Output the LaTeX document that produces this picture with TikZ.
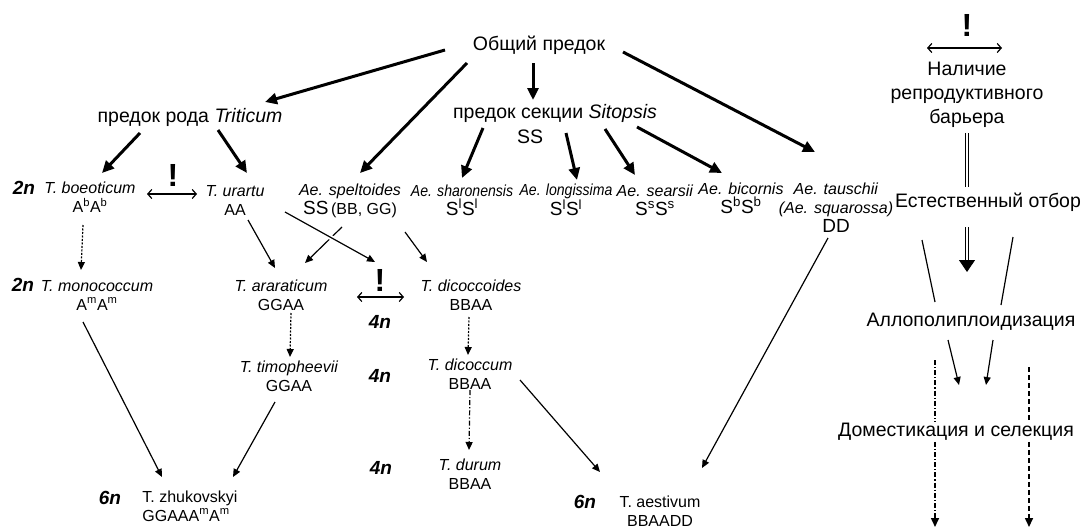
\documentclass[tikz,border=0pt]{standalone}
\usepackage{fontspec}
\setmainfont{Liberation Sans}
\newfontfamily\condsans[FakeStretch=0.88]{Liberation Sans}
\usepackage{tikz}
\usetikzlibrary{arrows.meta,positioning,calc}

\newcommand{\genome}[1]{{\fontsize{19}{21}\selectfont #1}}
\newcommand{\narrow}[1]{{\condsans\itshape #1}}

\begin{document}
\begin{tikzpicture}[
    x=1pt, y=-1pt,
    lbl/.style={font=\fontsize{19.5}{24}\selectfont, align=center, inner sep=1pt},
    taxon/.style={font=\fontsize{16}{19}\selectfont, align=center, inner sep=1pt},
    ploidy/.style={font=\fontsize{19}{22}\selectfont\bfseries\itshape, inner sep=1pt},
    excl/.style={font=\fontsize{32}{34}\selectfont\bfseries, inner sep=0pt},
    thickarr/.style={line width=3pt, -{Triangle[length=12pt,width=11pt]}},
    thinarr/.style={line width=1.2pt, -{Triangle[length=8pt,width=7pt]}},
    dotarr/.style={thinarr, dash pattern=on 2pt off 1.5pt},
    dasharr/.style={thinarr, dash pattern=on 5pt off 2pt on 1.2pt off 2pt},
    biarr/.style={line width=1.2pt, {Straight Barb[length=4pt,width=9pt]}-{Straight Barb[length=4pt,width=9pt]}},
    dblline/.style={double, double distance=2.5pt, line width=1pt}
]
\fill[white] (0,0) rectangle (1084,530);
\useasboundingbox (0,0) rectangle (1084,530);

% Ancestors
\node[lbl] (common) at (539,45) {Общий предок};
\node[lbl] (trit) at (190,117) {предок рода \textit{Triticum}};
\node[lbl] (sitop) at (555,113) {предок секции \textit{Sitopsis}};
\node[lbl] (ss) at (530,137) {SS};

% Diploids
\node[ploidy] (p2a) at (24,188) {2n};
\node[taxon] (boeot) at (90,197) {\textit{T. boeoticum}\\A\textsuperscript{b}A\textsuperscript{b}};
\node[excl] (ex1) at (173,175) {!};
\node[taxon] (urartu) at (235,200) {\textit{T. urartu}\\AA};
\node[taxon] (spelt) at (350,201) {\textit{Ae. speltoides}\\\genome{SS}\,(BB, GG)};
\node[taxon] (sharon) at (462,200) {\narrow{Ae. sharonensis}\\\genome{S\textsuperscript{l}S\textsuperscript{l}}};
\node[taxon] (longi) at (566,200) {\narrow{Ae. longissima}\\\genome{S\textsuperscript{l}S\textsuperscript{l}}};
\node[taxon] (sears) at (655,200) {\textit{Ae. searsii}\\\genome{S\textsuperscript{s}S\textsuperscript{s}}};
\node[taxon] (bicor) at (741,198) {\textit{Ae. bicornis}\\\genome{S\textsuperscript{b}S\textsuperscript{b}}};
\node[taxon] (tausch) at (836,208) {\textit{Ae. tauschii}\\\textit{(Ae. squarossa)}\\\genome{DD}};

% Second row
\node[ploidy] (p2b) at (23,285) {2n};
\node[taxon] (mono) at (97,295) {\textit{T. monococcum}\\A\textsuperscript{m}A\textsuperscript{m}};
\node[taxon] (arar) at (281,295) {\textit{T. araraticum}\\GGAA};
\node[excl] (ex2) at (380,280) {!};
\node[ploidy] (p4a) at (380,322) {4n};
\node[taxon] (dicoides) at (471,295) {\textit{T. dicoccoides}\\BBAA};

% Tetraploids
\node[taxon] (timo) at (289,376) {\textit{T. timopheevii}\\GGAA};
\node[ploidy] (p4b) at (380,376) {4n};
\node[taxon] (dicoccum) at (470,374) {\textit{T. dicoccum}\\BBAA};
\node[ploidy] (p4c) at (381,468) {4n};
\node[taxon] (durum) at (470,474) {\textit{T. durum}\\BBAA};

% Hexaploids
\node[ploidy] (p6a) at (110,498) {6n};
\node[taxon, align=left] (zhuk) at (190,506) {T. zhukovskyi\\GGAAA\textsuperscript{m}A\textsuperscript{m}};
\node[ploidy] (p6b) at (585,502) {6n};
\node[taxon] (aest) at (660,511) {T. aestivum\\BBAADD};

% Right column
\node[excl] (ex3) at (967,25) {!};
\node[lbl] (barrier) at (967,95) {Наличие\\репродуктивного\\барьера};
\node[lbl] (select) at (988,202) {Естественный отбор};
\node[lbl] (allo) at (971,322) {Аллополиплоидизация};
\node[lbl] (domest) at (956,432) {Доместикация и селекция};
\coordinate (ddtop) at (935,360);
\coordinate (ddbot) at (935,527);
\coordinate (dstop) at (1029,367);
\coordinate (dsbot) at (1029,527);

% Thick arrows
\draw[thickarr] ([shift={(-94,5)}]common.center) -- ([shift={(75,-15)}]trit.center);
\draw[thickarr] ([shift={(-72,18)}]common.center) -- ([shift={(10,-28)}]spelt.center);
\draw[thickarr] ([shift={(-6,18)}]common.center) -- ([shift={(-22,-13)}]sitop.center);
\draw[thickarr] ([shift={(84,7)}]common.center) -- ([shift={(-21,-56)}]tausch.center);
\draw[thickarr] ([shift={(-50,16)}]trit.center) -- ([shift={(12,-24)}]boeot.center);
\draw[thickarr] ([shift={(28,13)}]trit.center) -- ([shift={(12,-27)}]urartu.center);
\draw[thickarr] ([shift={(-72,15)}]sitop.center) -- ([shift={(0,-22)}]sharon.center);
\draw[thickarr] ([shift={(11,20)}]sitop.center) -- ([shift={(11,-20)}]longi.center);
\draw[thickarr] ([shift={(50,16)}]sitop.center) -- ([shift={(-20,-25)}]sears.center);
\draw[thickarr] ([shift={(82,14)}]sitop.center) -- ([shift={(-19,-25)}]bicor.center);

% Reproductive barriers
\draw[biarr] ([shift={(57,-3)}]boeot.center) -- ([shift={(-38,-6)}]urartu.center);
\draw[biarr] ([shift={(-23,17)}]ex2.center) -- ([shift={(24,17)}]ex2.center);
\draw[biarr] ([shift={(-40,23)}]ex3.center) -- ([shift={(35,23)}]ex3.center);

% Thin arrows
\draw[dotarr] ([shift={(-7,28)}]boeot.center) -- ([shift={(-16,-25)}]mono.center);
\draw[thinarr] ([shift={(13,20)}]urartu.center) -- ([shift={(-6,-27)}]arar.center);
\draw[thinarr] ([shift={(-8,26)}]spelt.center) -- ([shift={(24,-32)}]arar.center);
\draw[thinarr, preaction={draw=white, line width=5pt, -, shorten <=40pt, shorten >=45pt}] ([shift={(50,12)}]urartu.center) -- ([shift={(-5,-18)}]ex2.center);
\draw[thinarr] ([shift={(55,31)}]spelt.center) -- ([shift={(-44,-33)}]dicoides.center);
\draw[dotarr] ([shift={(10,18)}]arar.center) -- ([shift={(1,-19)}]timo.center);
\draw[dotarr] ([shift={(-2,22)}]dicoides.center) -- ([shift={(-2,-19)}]dicoccum.center);
\draw[dasharr] ([shift={(0,16)}]dicoccum.center) -- ([shift={(-1,-24)}]durum.center);
\draw[thinarr] ([shift={(-14,27)}]mono.center) -- ([shift={(-28,-29)}]zhuk.center);
\draw[thinarr] ([shift={(-14,26)}]timo.center) -- ([shift={(43,-29)}]zhuk.center);
\draw[thinarr] ([shift={(50,6)}]dicoccum.center) -- ([shift={(-60,-39)}]aest.center);
\draw[thinarr] ([shift={(-8,30)}]tausch.center) -- ([shift={(42,-43)}]aest.center);

% Right column connectors
\draw[dblline] ([shift={(0,38)}]barrier.center) -- ([shift={(-21,-15)}]select.center);
\draw[dblline, -{Triangle[length=12pt,width=16pt]}] ([shift={(-21,25)}]select.center) -- ([shift={(-4,-50)}]allo.center);
\draw[line width=1.2pt] ([shift={(-66,38)}]select.center) -- ([shift={(-36,-20)}]allo.center);
\draw[line width=1.2pt] ([shift={(25,35)}]select.center) -- ([shift={(30,-17)}]allo.center);
\draw[thinarr] ([shift={(-23,18)}]allo.center) -- ([shift={(3,-47)}]domest.center);
\draw[thinarr] ([shift={(22,18)}]allo.center) -- ([shift={(30,-47)}]domest.center);
\draw[line width=1.6pt, dash pattern=on 5pt off 2pt on 1.2pt off 2pt] (ddtop) -- (ddtop |- domest.north);
\draw[line width=1.6pt, dash pattern=on 5pt off 2pt on 1.2pt off 2pt, -{Triangle[length=9pt,width=8pt]}] (ddtop |- domest.south) -- (ddbot);
\draw[line width=1.6pt, dash pattern=on 5pt off 3pt] (dstop) -- (dstop |- domest.north);
\draw[line width=1.6pt, dash pattern=on 5pt off 3pt, -{Triangle[length=9pt,width=8pt]}] (dstop |- domest.south) -- (dsbot);

\end{tikzpicture}
\end{document}
